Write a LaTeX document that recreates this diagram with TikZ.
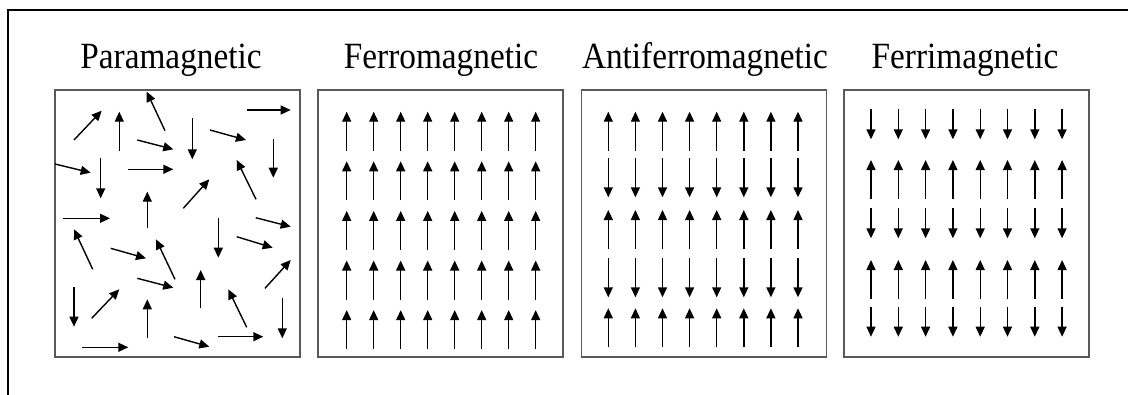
\documentclass[tikz,border=0pt]{standalone}
\usepackage{fontspec}
\setmainfont{Liberation Serif}[FakeStretch=0.9]
\usepackage{tikz}
\usetikzlibrary{positioning,arrows.meta}

\begin{document}
\begin{tikzpicture}[
		x=1pt,
		y=-1pt,
		title/.style={
			anchor=base,
			inner sep=0pt,
			font=\fontsize{37}{40}\selectfont
			},
		box/.style={
			rectangle,
			draw=black!65,
			line width=1.5pt,
			minimum width=245pt,
			minimum height=267pt,
			inner sep=0pt
			},
		spin/.style={
			draw,
			line width=1.4pt,
			-{Triangle[length=10pt,width=9pt]}
			}]
	    \useasboundingbox (0,0) rectangle (1128,394);
	    \draw[line width=2pt] (1130,10) -- (8,10) -- (8,396);

	    % Place boxes
	    \node [box] (para) at (177.5,223.5) {};
	    \node [box] (ferro) at (440.5,223.5) {};
	    \node [box] (antiferro) at (704,223.5) {};
	    \node [box] (ferri) at (966.5,223.5) {};

	    % Titles
	    \node [title] (paratitle) at (171,68) {Paramagnetic};
	    \node [title] (ferrotitle) at (441,68) {Ferromagnetic};
	    \node [title] (antiferrotitle) at (705,68) {Antiferromagnetic};
	    \node [title] (ferrititle) at (965,68) {Ferrimagnetic};

	    % Random spins
	    \foreach \ax/\ay/\bx/\by in {
	        74/140/101.7/110.7, 119.3/150.7/119.3/111.7, 165/130.7/146.7/91.7,
	        137.3/140/173.3/149.3, 192.3/118.3/192.3/159.3, 210/130/246/140,
	        246.7/110/290.7/110, 273.3/139.3/273.3/177.7, 55/164/90.7/172.7,
	        100.7/158.3/100.7/198.3, 128.3/169.3/173.3/169.3, 256/199.3/236.7/160,
	        183.3/208.3/209.3/179.3, 147.3/227.7/147.3/191.7, 63.3/218.3/110/218.3,
	        255.7/217.7/290.7/226.7, 218.3/217.7/218.3/257.7, 92.7/269.3/74/229.3,
	        110.7/248.3/146/258.3, 236.7/236.7/272.7/247.7, 175/279.3/156/239.3,
	        137.3/278.3/173.3/287.7, 200.7/308.3/200.7/270, 265/288.3/290.7/260,
	        74/287.3/74/326.7, 91.7/318.3/119.3/289.3, 147.3/337.7/147.3/299.3,
	        246.7/327.3/228.3/289.3, 282.3/298.3/282.3/338.3, 174/336.7/209.3/346.7,
	        218.3/336.7/263.3/336.7, 81.7/347.3/128.3/347.3}
	        \draw [spin] (\ax,\ay) -- (\bx,\by);

	    % Ferromagnetic: all up
	    \foreach \i in {0,...,7}
	        \foreach \j in {0,...,4}
	            \draw [spin] (346.7+27*\i,150.7+49.6*\j) -- ++(0,-39);

	    % Antiferromagnetic: up and down rows
	    \foreach \i in {0,...,7}{
	        \foreach \t in {111.7,210,308.3}
	            \draw [spin] (608.3+27.1*\i,\t+39) -- ++(0,-39);
	        \foreach \t in {158.3,258.3}
	            \draw [spin] (608.3+27.1*\i,\t) -- ++(0,39);
	    }

	    % Ferrimagnetic: short down, long up
	    \foreach \i in {0,...,7}{
	        \foreach \t in {109.3,208.3,306.7}
	            \draw [spin] (871+27.3*\i,\t) -- ++(0,30);
	        \foreach \t in {160,260}
	            \draw [spin] (871+27.3*\i,\t+39) -- ++(0,-39);
	    }
	\end{tikzpicture}
\end{document}
